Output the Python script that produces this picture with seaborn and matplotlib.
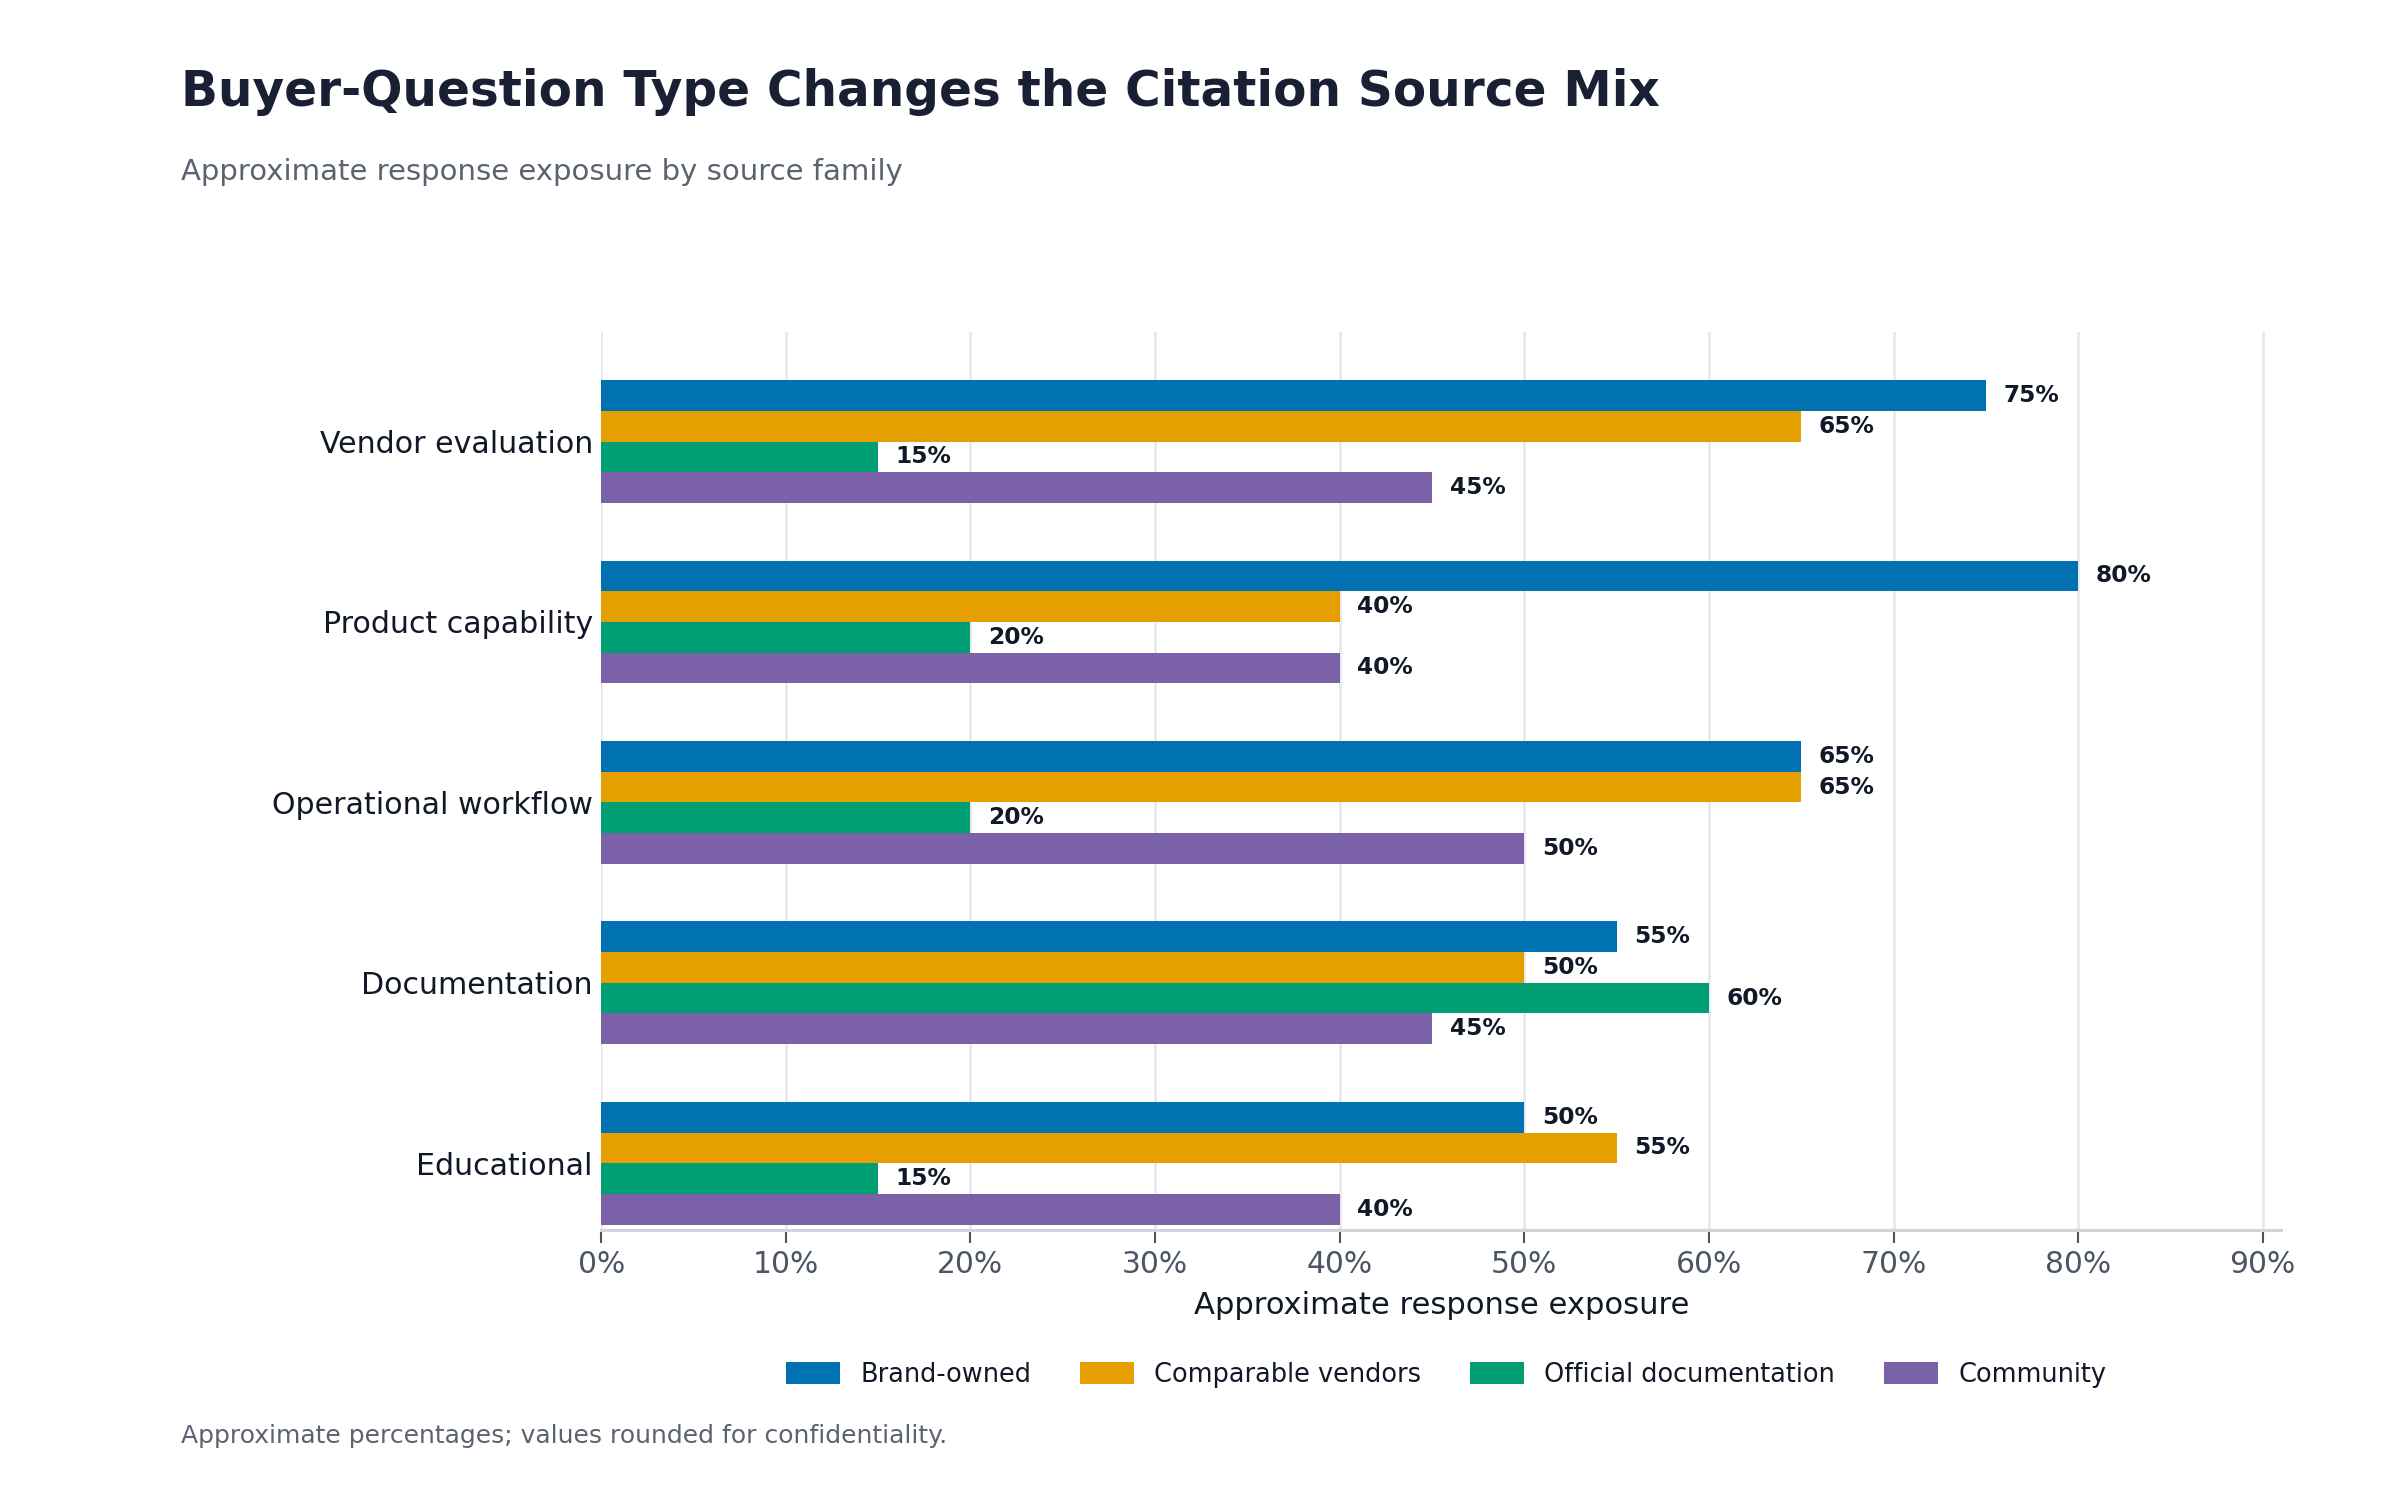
import matplotlib
matplotlib.use("Agg")
import matplotlib.pyplot as plt
import seaborn as sns
import pandas as pd

categories = ["Vendor evaluation", "Product capability", "Operational workflow", "Documentation", "Educational"]
sources = ["Brand-owned", "Comparable vendors", "Official documentation", "Community"]
brand_owned = [75, 80, 65, 55, 50]
comparable_vendors = [65, 40, 65, 50, 55]
official_docs = [15, 20, 20, 60, 15]
community = [45, 40, 50, 45, 40]
x_ticks = [0, 10, 20, 30, 40, 50, 60, 70, 80, 90]
x_tick_labels = ["0%", "10%", "20%", "30%", "40%", "50%", "60%", "70%", "80%", "90%"]

series = [brand_owned, comparable_vendors, official_docs, community]
rows = []
for src, vals in zip(sources, series):
    for cat, v in zip(categories, vals):
        rows.append({"Question type": cat, "Source": src, "Exposure": v})
df = pd.DataFrame(rows)

palette = ["#0072B2", "#E69F00", "#009E73", "#7B62A8"]

sns.set_theme(style="white")
plt.rcParams['font.family'] = ['DejaVu Sans']

fig = plt.figure(figsize=(16, 10), dpi=150)
ax = fig.add_axes([0.2505, 0.18, 0.7, 0.599])

sns.barplot(data=df, y="Question type", x="Exposure", hue="Source", order=categories,
            hue_order=sources, palette=palette, orient="h", width=0.68, ax=ax,
            saturation=1, legend=True, errorbar=None, linewidth=0)

for cont in ax.containers:
    ax.bar_label(cont, labels=[f"{v:g}%" for v in cont.datavalues], padding=8.5,
                 fontsize=11.2, fontweight="bold", color="#111827")

ax.set_xlim(0, 91)
ax.set_ylim(4.37, -0.61)
ax.set_xticks(x_ticks)
ax.set_xticklabels(x_tick_labels, fontsize=14.3, color="#4b5563")
ax.tick_params(axis="x", length=6, width=1, color="#4b5563", direction="out", pad=3.5, bottom=True)
ax.tick_params(axis="y", length=0, labelsize=14.4, labelcolor="#111827", pad=4)
ax.set_ylabel("")
ax.set_xlabel("Approximate response exposure", fontsize=14.7, color="#111827", labelpad=6)
ax.grid(axis="x", color="#e5e7eb", linewidth=1.2)
ax.grid(axis="y", visible=False)
ax.set_axisbelow(True)
for s in ["top", "right", "left"]:
    ax.spines[s].set_visible(False)
ax.spines["bottom"].set_color("#d1d5db")
ax.spines["bottom"].set_linewidth(1.5)

handles, labels = ax.get_legend_handles_labels()
ax.legend_.remove()
fig.legend(handles, labels, loc="center", bbox_to_anchor=(0.6025, 0.0835), ncol=4,
           frameon=False, fontsize=12.3, handlelength=2.1, handleheight=0.9,
           columnspacing=1.9, handletextpad=0.8, labelcolor="#111827")

fig.text(0.0755, 0.939, "Buyer-Question Type Changes the Citation Source Mix", fontsize=23.3,
         fontweight="bold", color="#1a2033", ha="left", va="center")
fig.text(0.0755, 0.885, "Approximate response exposure by source family", fontsize=14,
         color="#5b6370", ha="left", va="center")
fig.text(0.0755, 0.0425, "Approximate percentages; values rounded for confidentiality.", fontsize=12,
         color="#5b6370", ha="left", va="center")

fig.savefig("out.png", dpi=150, facecolor="white")
